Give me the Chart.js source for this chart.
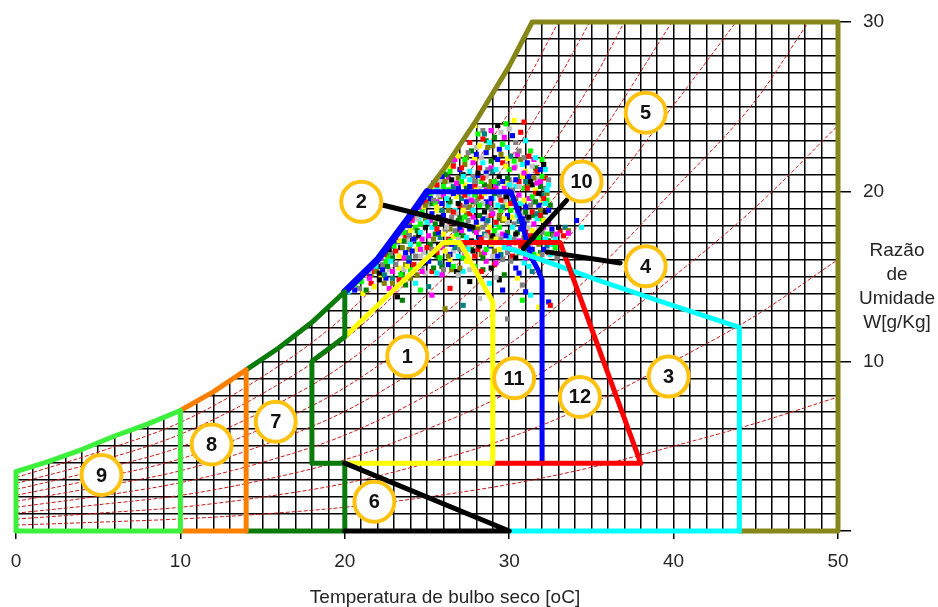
<!DOCTYPE html>
<html>
<head>
<meta charset="utf-8">
<title>Carta bioclimática</title>
<script src="https://cdn.jsdelivr.net/npm/chart.js@4.4.1/dist/chart.umd.min.js"></script>
<style>
  html, body { margin: 0; padding: 0; background: #fff; }
  canvas { display: block; }
</style>
</head>
<body>
<canvas id="carta" width="938" height="607"></canvas>
<script>
// Saturation curve: dry bulb temperature (°C) and humidity ratio (g/kg)
const satT = [0, 2, 4, 6, 8, 10, 12, 14, 16, 18, 20, 22, 24, 25, 26, 28, 30, 31.4];
const satW = [3.5, 4.1, 4.8, 5.6, 6.3, 7.1, 8.2, 9.5, 10.8, 12.3, 14.1, 16.0, 18.6, 20.0, 21.3, 24.2, 27.4, 30];

// Relative humidity curves, 10 % to 90 %  [T, W]
const rh10 = [[0,0.35],[5,0.52],[10,0.71],[15,1.0],[20,1.4],[25,2.0],[30,2.75],[35,3.75],[40,5.0],[45,6.35],[50,7.9]];
const rh20 = [[0,0.7],[5,1.05],[10,1.4],[15,2.0],[20,2.8],[25,4.0],[30,5.5],[35,7.5],[40,10.0],[45,12.7],[50,16.0]];
const rh30 = [[0,1.05],[5,1.55],[10,2.1],[15,3.0],[20,4.2],[25,6.0],[30,8.2],[35,11.3],[40,15.0],[45,19.1],[50,23.9]];
const rh40 = [[0,1.4],[5,2.05],[10,2.85],[15,4.05],[20,5.65],[25,8.0],[30,11.0],[35,15.1],[40,20.1],[45,25.4],[48.2,30]];
const rh50 = [[0,1.75],[5,2.6],[10,3.55],[15,5.05],[20,7.05],[25,9.95],[30,13.7],[35,18.9],[40,25.1],[43.8,30]];
const rh60 = [[0,2.1],[5,3.1],[10,4.25],[15,6.05],[20,8.45],[25,11.95],[30,16.45],[35,22.6],[39.9,30]];
const rh70 = [[0,2.45],[5,3.6],[10,4.95],[15,7.05],[20,9.85],[25,13.95],[30,19.2],[35,26.4],[37.0,30]];
const rh80 = [[0,2.8],[5,4.1],[10,5.7],[15,8.1],[20,11.3],[25,15.9],[30,21.9],[32.5,25.8],[34.9,30]];
const rh90 = [[0,3.15],[5,4.65],[10,6.4],[15,9.1],[20,12.7],[25,17.9],[30,24.7],[33.0,30]];

// Zone boundary corners that are not on the saturation curve [T, W]
const zone7Edge  = [[14,0],[20,0],[20,4],[18,4],[18,10],[20,11.45]];
const zone1Edge  = [[20,4],[29,4],[29,13.5],[27,17],[26,17],[20,11.45]];
const zone12Edge = [[29,4],[38,4],[33.1,17],[27,17]];
const zone6Edge  = [[20,4],[30,0],[20,0]];
const zone11Edge = [[25,20],[30.1,20],[30.75,18.3],[31.05,17.1],[31.3,16.2],[31.75,15.4],[32,14.8],[32,4]];
const zone3Edge  = [[30.0,16.65],[32.5,15.8],[35.5,14.75],[39,13.6],[44,12],[44,0],[30,0]];
const zone5Edge  = [[50,30],[50,0],[44,0]];

// Zone numbers and where their markers sit
const zoneLabel = ['1','2','3','4','5','6','7','8','9','10','11','12'];
const zoneLabelT = [23.8, 21.0, 39.7, 38.3, 38.3, 21.8, 15.8, 11.9, 5.2, 34.4, 30.3, 34.3];
const zoneLabelW = [10.3, 19.4, 9.1, 15.6, 24.65, 1.72, 6.44, 5.1, 3.3, 20.6, 9.0, 7.9];

// Leader lines from markers 2, 10 and 4
const leader2  = [[22.35,19.2],[27.8,17.9]];
const leader10 = [[33.5,19.5],[30.85,16.65]];
const leader4  = [[32.3,16.45],[36.75,15.8]];

// Hourly climate records [T, W], grouped by plotting colour
const recRed = [[28.4,23.1],[27.1,21.4],[31.2,22.1],[25.6,20.4],[28.4,20.8],[31.1,20.2],[24.7,19.4],[27.3,19.8],[30.1,19.3],[32.1,19.6],[24.0,18.4],[26.6,18.8],[29.2,18.2],[31.9,18.6],[23.1,17.3],[25.6,17.8],[28.3,17.2],[31.0,17.6],[33.3,17.4],[22.4,16.3],[25.0,16.7],[27.9,16.2],[30.7,16.8],[21.3,15.2],[24.2,15.7],[28.3,15.3],[20.4,14.4],[23.3,14.8],[32.5,13.3],[30.9,24.1]];
const recLime = [[29.6,22.8],[26.4,21.2],[30.3,21.8],[26.3,20.1],[29.1,20.6],[32.0,20.9],[25.2,19.9],[28.2,19.2],[31.4,19.7],[24.6,18.1],[27.3,18.5],[30.1,18.9],[23.6,17.6],[26.4,17.1],[29.1,17.7],[31.8,17.3],[23.0,16.8],[25.8,16.1],[28.6,16.6],[31.5,16.3],[32.8,16.7],[21.8,15.8],[23.4,15.1],[26.6,15.6],[21.0,14.7],[24.6,14.2],[30.8,13.6],[29.8,24.0]];
const recBlue = [[30.2,23.3],[28.6,22.3],[31.9,21.3],[25.9,20.9],[27.6,20.3],[30.4,20.7],[25.9,19.3],[28.9,19.6],[31.0,19.1],[26.6,19.9],[25.3,18.7],[28.0,18.2],[30.8,18.4],[32.4,18.9],[24.2,17.2],[27.0,17.9],[29.8,17.4],[32.6,17.8],[23.7,16.4],[26.5,16.9],[29.3,16.2],[32.1,16.6],[22.3,15.4],[25.1,15.9],[30.6,15.2],[20.6,14.2],[31.0,14.1],[32.4,13.5],[34.1,18.3]];
const recMagenta = [[28.9,23.6],[27.8,21.7],[30.9,21.1],[26.8,20.5],[29.7,20.2],[31.7,20.5],[24.5,19.1],[27.7,19.5],[30.6,19.8],[24.1,18.3],[26.1,18.3],[29.0,18.7],[31.5,18.1],[23.5,17.8],[25.1,17.4],[28.0,17.6],[30.6,17.1],[32.9,17.5],[22.2,16.1],[24.6,16.6],[27.3,16.4],[30.0,16.9],[21.6,15.5],[24.7,15.3],[29.2,15.8],[21.5,14.9],[22.7,14.3],[25.3,13.9],[33.6,17.55]];
const recCyan = [[29.9,22.6],[29.2,21.3],[31.6,22.0],[27.2,20.9],[30.0,20.4],[32.3,20.1],[26.2,19.6],[29.3,19.2],[32.2,19.3],[24.9,19.7],[25.0,18.2],[27.8,18.9],[30.5,18.6],[24.6,17.6],[27.4,17.3],[30.2,17.9],[32.2,17.2],[24.0,16.9],[26.9,16.2],[29.7,16.7],[32.5,16.3],[22.8,15.9],[25.6,15.2],[31.2,15.6],[20.2,14.1],[28.8,14.6],[31.3,13.9],[34.4,17.9]];
const recYellow = [[28.2,22.7],[26.9,22.1],[29.8,21.5],[25.3,20.2],[28.0,20.1],[30.8,20.9],[25.6,19.1],[28.5,19.9],[30.9,19.5],[24.3,18.9],[26.9,18.1],[29.7,18.4],[32.1,18.3],[23.3,17.1],[26.0,17.5],[28.8,17.9],[31.4,17.7],[23.3,16.2],[26.1,16.5],[28.9,16.9],[31.2,16.4],[21.2,15.1],[23.8,15.6],[27.4,15.9],[21.8,14.4],[30.5,14.9],[31.8,13.2]];
const recBlack = [[29.3,23.9],[28.1,21.1],[32.1,21.6],[26.5,20.7],[29.4,20.9],[31.3,20.6],[26.9,19.3],[29.8,19.7],[31.8,19.9],[25.7,18.5],[28.5,18.8],[31.2,18.5],[24.9,17.9],[27.7,17.1],[30.4,17.5],[33.0,17.9],[22.7,16.6],[25.4,16.3],[28.2,16.8],[30.4,16.1],[22.1,15.2],[24.9,15.8],[28.9,15.5],[22.1,14.8],[27.6,14.7],[23.2,13.8]];
const recGray = [[30.4,22.9],[27.5,22.3],[30.6,22.4],[27.9,20.6],[30.2,20.1],[32.4,20.7],[25.4,19.5],[28.0,19.4],[31.3,19.2],[27.0,19.95],[24.8,18.6],[27.5,18.3],[30.3,18.1],[28.9,18.95],[23.9,17.4],[26.7,17.7],[29.5,17.2],[32.0,17.6],[24.3,16.2],[27.0,16.6],[29.9,16.4],[32.9,16.1],[23.1,15.7],[26.0,15.4],[30.1,15.9],[20.9,14.3],[30.8,14.5],[29.9,12.5]];
const recOlive = [[28.7,22.6],[27.3,21.6],[29.5,22.2],[26.1,20.6],[28.8,20.3],[31.5,20.8],[24.9,19.2],[27.6,19.1],[30.4,19.6],[23.9,18.2],[26.3,18.9],[29.4,18.6],[25.4,17.2],[28.1,17.8],[30.9,17.3],[33.6,17.7],[23.5,16.7],[26.3,16.2],[29.1,16.5],[31.8,16.9],[21.9,15.3],[24.4,15.1],[27.0,15.5],[22.4,14.6],[24.0,14.9],[26.1,13.1]];
const recGreen = [[29.1,23.2],[26.2,21.0],[28.9,21.8],[27.4,20.2],[29.9,20.8],[31.9,20.3],[26.4,19.4],[29.1,19.9],[31.6,19.4],[28.7,19.1],[25.5,18.1],[28.2,18.6],[31.0,18.8],[27.0,18.45],[24.4,17.7],[27.2,17.4],[29.9,17.6],[32.4,17.1],[22.5,16.4],[25.2,16.9],[28.4,16.1],[31.0,16.5],[22.6,15.6],[25.4,15.5],[29.7,15.1],[21.3,14.2],[23.7,14.5],[23.5,13.6]];
const recSilver = [[30.0,23.7],[28.3,22.0],[31.4,21.5],[25.8,20.7],[28.6,20.9],[30.6,20.3],[25.7,19.8],[28.4,19.3],[30.2,19.9],[24.4,18.4],[26.8,18.7],[29.9,18.2],[23.4,17.5],[26.2,17.9],[28.6,17.4],[31.2,17.9],[24.8,16.4],[27.6,16.9],[30.3,16.6],[21.5,15.3],[23.6,15.4],[26.9,15.1],[20.9,14.7],[29.2,14.95],[28.2,13.7]];
const recTeal = [[28.5,23.4],[29.0,21.2],[30.1,22.1],[26.6,20.3],[29.3,20.5],[31.0,20.6],[27.1,19.6],[29.6,19.1],[32.0,19.8],[24.6,19.4],[25.9,18.9],[28.7,18.3],[31.7,18.7],[30.6,18.25],[25.8,17.3],[28.5,17.5],[31.6,17.2],[33.4,17.9],[23.9,16.1],[26.7,16.7],[29.5,16.3],[32.3,16.8],[22.4,15.1],[25.8,15.8],[31.4,15.3],[22.9,14.9],[25.1,14.4],[27.2,13.3]];
const recRed2 = [[27.6,22.9],[30.7,23.5],[26.6,21.5],[29.6,21.7],[31.7,21.2],[28.2,21.4],[25.7,20.8],[27.9,20.3],[30.6,20.6],[32.2,20.8],[29.0,20.1],[24.9,19.5],[27.0,19.2],[29.5,19.5],[31.6,19.9],[28.3,19.7],[24.2,18.6],[26.4,18.2],[28.9,18.6],[31.4,18.8],[27.6,18.7],[23.7,17.4],[26.3,17.2],[28.7,17.6],[31.3,17.4],[33.1,17.7],[23.1,16.5],[25.6,16.4],[28.1,16.6],[30.2,16.2],[32.4,16.4],[21.7,15.3],[25.3,15.3],[29.1,15.7],[21.6,14.6],[26.4,14.3]];
const recLime2 = [[28.1,23.4],[31.3,22.4],[27.3,21.9],[30.0,21.3],[32.0,21.9],[26.0,21.1],[26.0,20.3],[28.3,20.6],[30.9,20.2],[27.1,20.6],[25.5,19.3],[27.9,19.8],[30.3,19.6],[32.3,19.5],[24.7,18.8],[27.1,18.2],[29.5,18.9],[32.0,18.4],[24.3,17.9],[26.8,17.5],[29.4,17.9],[32.3,17.5],[22.6,16.2],[24.5,16.9],[27.2,16.1],[29.8,16.9],[22.5,15.9],[24.0,15.4],[27.9,15.6],[20.6,14.5]];
const recBlue2 = [[29.4,22.5],[28.0,22.2],[27.0,21.3],[29.3,21.9],[31.1,21.7],[28.6,21.1],[25.4,20.5],[28.1,20.95],[31.2,20.9],[29.6,20.6],[26.9,20.2],[25.2,19.6],[27.4,19.4],[30.0,19.9],[31.8,19.2],[28.6,19.4],[23.9,18.0],[26.0,18.6],[28.4,18.4],[30.9,18.1],[29.9,18.6],[23.2,17.05],[25.7,17.6],[28.2,17.3],[30.7,17.8],[27.6,17.8],[24.1,16.5],[26.4,16.3],[28.8,16.8],[31.4,16.6],[22.9,16.8],[21.5,15.0],[23.9,15.9],[26.3,15.7],[30.4,15.5],[22.5,14.9],[29.6,14.2]];
const recMagenta2 = [[30.5,22.2],[29.7,23.2],[26.7,21.9],[28.9,21.4],[31.5,21.9],[30.3,21.4],[26.3,20.85],[29.2,20.3],[31.9,20.6],[28.6,20.1],[26.0,19.8],[28.8,19.3],[31.2,19.6],[25.6,19.4],[25.2,18.3],[27.8,18.5],[30.5,18.9],[32.4,18.2],[24.7,17.2],[27.1,17.7],[29.6,17.5],[32.1,17.9],[23.6,16.1],[25.9,16.7],[28.5,16.4],[31.0,16.1],[22.9,15.3],[25.9,15.1],[28.6,15.9],[23.0,14.2]];
const recCyan2 = [[28.8,22.9],[31.0,23.0],[27.6,21.2],[30.8,21.6],[28.4,21.7],[32.2,21.3],[25.6,20.1],[27.6,20.7],[30.4,20.3],[32.4,20.4],[26.3,19.2],[29.0,19.6],[30.7,19.3],[27.5,19.9],[24.5,18.4],[26.7,18.9],[29.2,18.1],[31.7,18.4],[25.3,17.9],[27.9,17.05],[30.0,17.3],[32.8,17.2],[25.1,16.2],[27.5,16.6],[30.5,16.5],[32.6,16.9],[21.9,15.6],[24.5,15.6],[27.2,15.3],[30.9,15.8],[24.3,14.6]];
const recYellow2 = [[27.9,23.9],[30.3,24.2],[27.9,21.95],[29.9,21.95],[31.0,21.2],[26.3,21.5],[26.5,20.2],[29.8,20.5],[31.6,20.1],[27.3,20.4],[26.8,19.7],[29.9,19.2],[32.0,19.5],[24.8,19.1],[25.6,18.9],[28.1,18.0],[30.2,18.5],[27.2,18.9],[24.0,17.7],[26.6,17.35],[29.2,17.2],[31.7,17.6],[24.4,16.6],[26.9,16.9],[29.4,16.6],[31.7,16.2],[22.2,15.0],[23.3,15.5],[26.4,15.95],[21.1,14.0]];
const recBlack2 = [[25.1,19.6],[27.2,21.0],[29.1,22.0],[31.4,20.4],[24.2,18.9],[26.3,19.5],[28.5,19.3],[30.6,19.0],[32.2,18.8],[23.6,18.0],[25.9,18.1],[28.0,18.6],[30.0,18.3],[24.5,17.4],[26.9,17.6],[29.0,17.4],[31.5,17.5],[23.4,16.7],[25.7,16.9],[27.8,16.5],[30.9,16.7],[22.0,15.6],[26.8,15.3],[29.4,14.8]];
const recGray2 = [[28.4,23.6],[26.6,21.7],[28.7,21.3],[30.9,22.0],[25.6,20.3],[27.8,20.9],[30.0,20.7],[32.1,20.2],[25.0,19.4],[27.3,19.1],[29.4,19.8],[31.5,19.4],[24.6,18.7],[26.5,18.5],[28.6,18.1],[31.1,18.3],[23.8,17.6],[26.1,17.7],[28.4,17.9],[30.3,17.2],[32.7,17.4],[22.8,16.4],[25.3,16.6],[27.4,16.8],[29.6,16.0],[32.0,16.3],[22.3,15.7],[24.7,15.6],[28.1,15.1]];
const recOlive2 = [[29.0,22.7],[27.4,22.0],[30.7,21.9],[26.9,20.8],[28.9,20.6],[31.2,20.4],[25.8,19.7],[28.1,19.6],[30.5,19.1],[32.3,19.9],[24.9,18.4],[27.4,18.7],[29.6,18.3],[31.9,18.9],[24.3,17.3],[26.4,17.8],[28.9,17.3],[31.1,17.1],[23.9,16.6],[26.2,16.9],[28.3,16.3],[30.6,16.4],[21.6,15.1],[23.7,15.7],[26.5,15.4],[22.9,14.6]];
const recGreen2 = [[28.6,23.0],[27.7,22.4],[31.6,21.4],[26.0,20.5],[28.5,20.4],[30.7,20.9],[25.3,19.3],[27.8,19.4],[30.2,19.4],[32.5,19.2],[24.3,18.5],[26.9,18.3],[29.4,18.4],[31.5,18.6],[23.6,17.1],[25.5,17.5],[27.9,17.7],[30.5,17.6],[32.6,17.5],[22.9,16.1],[25.6,16.2],[27.7,16.6],[30.1,16.6],[31.9,16.4],[23.5,15.2],[25.9,15.6],[28.4,15.4]];
const recSilver2 = [[29.5,23.5],[28.0,22.6],[30.4,21.5],[26.4,20.6],[28.2,20.2],[30.1,20.5],[31.8,20.7],[25.1,19.2],[27.5,19.6],[29.7,19.4],[31.9,19.1],[23.7,18.1],[25.9,18.4],[28.7,18.5],[30.8,18.7],[23.8,17.1],[26.9,17.3],[29.3,17.4],[31.8,17.8],[24.6,16.2],[26.6,16.5],[29.0,16.2],[31.3,16.8],[22.7,15.4],[24.9,15.2],[27.6,15.4]];

const FONT = '"Liberation Sans", Arial, sans-serif';
const TEXT = '#262626';

const toXY = list => list.map(p => ({ x: p[0], y: p[1] }));
const satPts = satT.map((t, i) => [t, satW[i]]);
const satRange = (a, b) => satPts.filter(p => p[0] >= a && p[0] <= b);

function outline(pts, color, width, order) {
  return {
    data: toXY(pts), showLine: true, fill: false,
    borderColor: color, borderWidth: width,
    borderJoinStyle: 'round', borderCapStyle: 'round',
    pointRadius: 0, tension: 0, order: order, clip: false
  };
}
function rhLine(pts) {
  return {
    data: toXY(pts), showLine: true, fill: false,
    borderColor: '#c81818', borderWidth: 1, borderDash: [4, 2],
    pointRadius: 0, cubicInterpolationMode: 'monotone', order: 40
  };
}
function records(pts, color) {
  return {
    data: toXY(pts), showLine: false,
    pointStyle: 'rect', pointRadius: 3.6,
    pointBackgroundColor: color, pointBorderWidth: 0,
    order: 30, clip: false
  };
}

const datasets = [
  rhLine(rh10), rhLine(rh20), rhLine(rh30), rhLine(rh40), rhLine(rh50),
  rhLine(rh60), rhLine(rh70), rhLine(rh80), rhLine(rh90),

  records(recRed, '#ff0000'), records(recLime, '#00ff00'), records(recBlue, '#0000ff'),
  records(recMagenta, '#ff00ff'), records(recCyan, '#00ffff'), records(recYellow, '#ffff00'),
  records(recBlack, '#000000'), records(recGray, '#808080'), records(recOlive, '#808000'),
  records(recGreen, '#008000'), records(recSilver, '#c0c0c0'), records(recTeal, '#008080'),
  records(recRed2, '#ff0000'), records(recLime2, '#00ff00'), records(recBlue2, '#0000ff'),
  records(recMagenta2, '#ff00ff'), records(recCyan2, '#00ffff'), records(recYellow2, '#ffff00'),
  records(recBlack2, '#000000'), records(recGray2, '#808080'), records(recOlive2, '#808000'),
  records(recGreen2, '#008000'), records(recSilver2, '#c0c0c0'),

  outline(satRange(25, 31.4).concat(zone5Edge), '#86861a', 5, 20),
  outline(zone11Edge, '#0000ff', 5, 19),
  outline(satRange(20, 25), '#0000ff', 7, 19),
  outline(zone3Edge, '#00ffff', 5, 18),
  outline(zone12Edge, '#ff0000', 5, 17),
  outline(zone1Edge, '#ffff00', 5, 16),
  outline(zone7Edge.concat(satRange(14, 20).reverse()), '#0a7a0a', 5, 15),
  outline([[10,0],[14,0]].concat(satRange(10, 14).reverse()), '#ff8000', 5, 14),
  outline([[10,0],[0,0]].concat(satRange(0, 10), [[10,0]]), '#3cf03c', 5, 13),
  outline(zone6Edge, '#000000', 5, 12),

  outline(leader2, '#000000', 5, 5),
  outline(leader10, '#000000', 5, 5),
  outline(leader4, '#000000', 5, 5),

  // zone markers
  { data: zoneLabelT.map((t, i) => ({ x: t, y: zoneLabelW[i] })), showLine: false,
    pointStyle: 'circle', pointRadius: 20, pointBorderWidth: 4,
    pointBorderColor: '#ffc20e', pointBackgroundColor: '#ffffff', order: 0, clip: false }
];

// the grid only covers air below saturation: paint the area above the curve white
const saturationMask = {
  id: 'saturationMask',
  beforeDatasetsDraw(chart) {
    const ctx = chart.ctx, a = chart.chartArea;
    const xs = chart.scales.x, ys = chart.scales.y;
    ctx.save();
    ctx.beginPath();
    ctx.moveTo(a.left - 2, a.top - 2);
    ctx.lineTo(a.left - 2, ys.getPixelForValue(satPts[0][1]));
    satPts.forEach(p => ctx.lineTo(xs.getPixelForValue(p[0]), ys.getPixelForValue(p[1])));
    ctx.lineTo(xs.getPixelForValue(satPts[satPts.length - 1][0]), a.top - 2);
    ctx.closePath();
    ctx.fillStyle = '#ffffff';
    ctx.fill();
    ctx.restore();
  }
};

// numbers inside the markers and the axis titles
const textPlugin = {
  id: 'cartaTextos',
  afterDatasetsDraw(chart) {
    const ctx = chart.ctx;
    const xs = chart.scales.x, ys = chart.scales.y;
    ctx.save();
    ctx.fillStyle = '#111';
    ctx.font = 'bold 20px ' + FONT;
    ctx.textAlign = 'center';
    ctx.textBaseline = 'middle';
    zoneLabel.forEach((s, i) => {
      ctx.fillText(s, xs.getPixelForValue(zoneLabelT[i]), ys.getPixelForValue(zoneLabelW[i]) + 1);
    });
    ctx.fillStyle = TEXT;
    ctx.font = '19px ' + FONT;
    ctx.fillText('Temperatura de bulbo seco [oC]', 445, 598);
    const rx = chart.chartArea.right + 59;
    ['Razão', 'de', 'Umidade', 'W[g/Kg]'].forEach((s, i) => {
      ctx.fillText(s, rx, 251 + i * 24);
    });
    ctx.restore();
  }
};

const tenMark = c => (c.tick && c.tick.value % 10 === 0) ? '#000000' : 'rgba(0,0,0,0)';

new Chart(document.getElementById('carta'), {
  type: 'scatter',
  data: { datasets: datasets },
  options: {
    responsive: false,
    animation: false,
    events: [],
    layout: { autoPadding: false, padding: { left: 16, top: 22, right: 0, bottom: 0 } },
    plugins: { legend: { display: false }, tooltip: { enabled: false }, title: { display: false } },
    scales: {
      x: {
        type: 'linear', min: 0, max: 50,
        afterFit(s) { s.height = 76; s.paddingLeft = 0; s.paddingRight = 0; },
        border: { display: true, color: '#000' },
        grid: { color: '#000000', lineWidth: 1.5, tickLength: 8, tickColor: tenMark },
        ticks: {
          stepSize: 1, autoSkip: false, maxRotation: 0, padding: 11,
          color: TEXT, font: { family: FONT, size: 19 },
          callback: v => (v % 10 === 0 ? String(v) : '')
        }
      },
      y: {
        type: 'linear', position: 'right', min: 0, max: 30,
        afterFit(s) { s.width = 100; s.paddingTop = 0; s.paddingBottom = 0; },
        border: { display: true, color: '#000' },
        grid: { color: '#000000', lineWidth: 1.5, tickLength: 13, tickColor: tenMark },
        ticks: {
          stepSize: 1, autoSkip: false, padding: 12,
          color: TEXT, font: { family: FONT, size: 19 },
          callback: v => (v % 10 === 0 && v > 0 ? String(v) : '')
        }
      }
    }
  },
  plugins: [saturationMask, textPlugin]
});
</script>
</body>
</html>
